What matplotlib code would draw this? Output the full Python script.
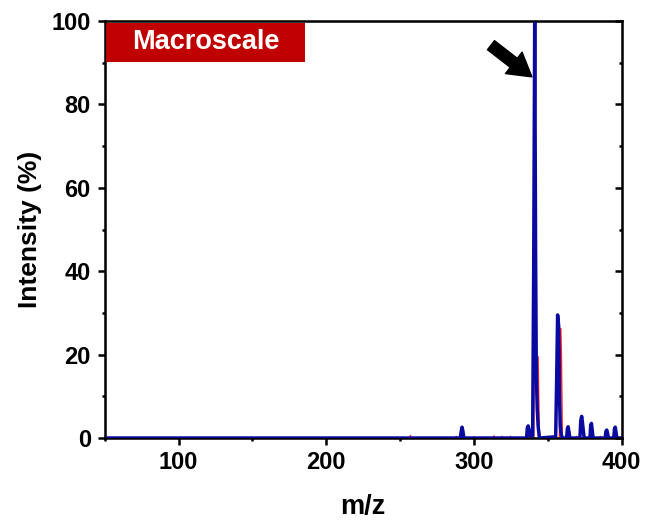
import matplotlib
matplotlib.use("Agg")
import matplotlib.pyplot as plt
from matplotlib.patches import Rectangle
from matplotlib.ticker import MultipleLocator

# spectrum vertices (m/z, intensity %)
blue_mz = [50, 290.7, 291.3, 291.9, 292.5, 293.2,
           335.6, 336.1, 336.7, 337.3, 337.9,
           339.7, 340.4, 341.1, 341.7, 342.2, 342.8, 343.4, 344.1,
           344.6, 355.3, 356.0, 356.6, 357.3, 357.9, 358.4, 359.0, 359.8,
           362.7, 363.2, 363.7, 364.3, 364.9,
           371.7, 372.3, 372.9, 373.5, 374.0, 374.6,
           378.5, 379.0, 379.5, 380.0, 380.6,
           388.8, 389.3, 389.9, 390.4, 391.0,
           394.6, 395.1, 395.6, 396.1, 396.7, 400]
blue_int = [0, 0, 1.5, 2.6, 1.6, 0,
            0, 2.5, 2.9, 2.0, 0.5,
            0.5, 40, 100, 45, 15, 7, 3, 0.5,
            0, 0.3, 15, 29.5, 27, 10, 3, 1, 0,
            0, 2.2, 2.7, 1.5, 0,
            0, 4.2, 5.2, 3.5, 1.8, 0,
            0, 3.0, 3.5, 2.0, 0,
            0, 1.6, 1.9, 1.2, 0,
            0, 2.2, 2.6, 1.5, 0, 0]

red_mz = [50, 256.5, 257, 257.5, 287.5, 288, 288.5, 299.5, 300, 300.5,
          313, 313.6, 314.2, 318.5, 319, 319.5, 324.3, 324.8, 325.3,
          340.5, 341.3, 342.0, 342.6, 343.4, 344.2, 345.0,
          357.8, 358.6, 359.2, 359.8, 369, 369.5, 370,
          385, 385.5, 386, 400]
red_int = [0, 0, 0.6, 0, 0, 0.4, 0, 0, 0.3, 0,
           0, 0.5, 0, 0, 0.4, 0, 0, 0.4, 0,
           0, 95, 13, 8, 19.5, 2, 0,
           0, 26.3, 20, 0, 0, 0.4, 0,
           0, 0.4, 0, 0]

xlim = (50, 400)
ylim = (0, 100)
label_text = "Macroscale"

plt.rcParams["font.family"] = ["Liberation Sans", "DejaVu Sans"]
plt.rcParams["font.weight"] = "bold"

fig = plt.figure(figsize=(6.45, 5.25), dpi=100)
ax = fig.add_axes([0.1623, 0.1657, 0.8016, 0.7943])

ax.plot(red_mz, red_int, color="#FF2020", lw=1.0, zorder=2)
ax.plot(blue_mz, blue_int, color="#0A0AA0", lw=2.5, zorder=3)

ax.set_xlim(*xlim)
ax.set_ylim(*ylim)
ax.xaxis.set_major_locator(MultipleLocator(100))
ax.xaxis.set_minor_locator(MultipleLocator(50))
ax.yaxis.set_major_locator(MultipleLocator(20))
ax.yaxis.set_minor_locator(MultipleLocator(10))

for s in ax.spines.values():
    s.set_linewidth(1.8)
ax.tick_params(which="both", direction="out", width=1.8, labelsize=17,
               top=False, right=False)
ax.tick_params(axis="x", pad=4)
ax.tick_params(axis="y", pad=5)
ax.tick_params(which="major", length=5)
ax.tick_params(which="minor", length=2.5)
for lab in ax.get_xticklabels() + ax.get_yticklabels():
    lab.set_fontweight("bold")

# inward ticks on the right spine
ax_r = ax.twinx()
ax_r.set_ylim(*ylim)
ax_r.yaxis.set_major_locator(MultipleLocator(20))
ax_r.yaxis.set_minor_locator(MultipleLocator(10))
ax_r.tick_params(which="both", direction="in", width=1.8, labelright=False)
ax_r.tick_params(which="major", length=5)
ax_r.tick_params(which="minor", length=2.5)

ax.set_xlabel("m/z", fontsize=19.5, fontweight="bold", labelpad=15)
ax.set_ylabel("Intensity (%)", fontsize=19, fontweight="bold", labelpad=7)

ax.add_patch(Rectangle((0.003, 0.902), 0.384, 0.094, transform=ax.transAxes,
                       facecolor="#C00000", edgecolor="none", zorder=4))
ax.text(0.195, 0.950, label_text, transform=ax.transAxes, color="white",
        fontsize=19.5, fontweight="bold", ha="center", va="center", zorder=5)

ax.annotate("", xy=(339.2, 86.6), xytext=(311.5, 94.2),
            arrowprops=dict(arrowstyle="simple,head_length=1.1,head_width=1.3,tail_width=0.55",
                            color="black", shrinkA=0, shrinkB=0, mutation_scale=15),
            zorder=6)

fig.savefig("out.png", dpi=100)
